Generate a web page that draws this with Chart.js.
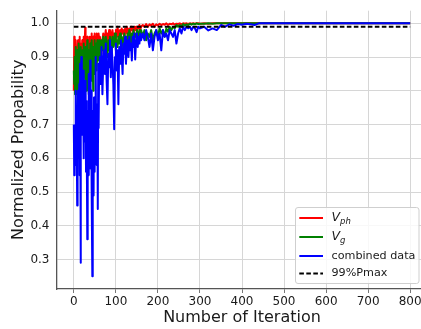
<!DOCTYPE html>
<html>
<head>
<meta charset="utf-8">
<script src="https://cdn.jsdelivr.net/npm/chart.js@4/dist/chart.umd.min.js"></script>
<style>
  html, body { margin: 0; padding: 0; background: #ffffff; }
  #wrap { width: 421px; height: 329px; overflow: hidden; position: relative; }
  canvas { display: block; }
</style>
</head>
<body>
<div id="wrap"><canvas id="chart" width="440" height="329"></canvas></div>
<script>
// Iteration numbers at which the probabilities were sampled
const iterations = [
  0,1,2,3,4,5,6,7,8,9,10,11,12,13,14,15,16,17,18,19,20,
  21,22,23,24,25,26,27,28,29,30,31,32,33,34,35,36,37,38,39,40,
  41,42,43,44,45,46,47,48,49,50,51,52,53,54,55,56,57,58,59,60,
  62,64,66,68,70,72,74,76,78,80,82,84,86,88,90,92,94,96,98,100,
  102,104,106,108,110,112,114,116,118,120,122,124,126,128,130,132,134,136,138,140,
  142,144,146,148,150,152,154,156,158,160,
  164,168,172,176,180,184,188,192,196,200,204,208,212,216,220,224,228,232,236,240,
  244,248,252,256,260,264,268,272,276,280,284,288,292,296,300,
  310,320,330,340,350,360,370,380,390,400,410,420,430,440,450,
  800
];

// Normalized probability from the V_ph data
const vph = [
  0.80,0.96,0.88,0.94,0.83,0.95,0.90,0.86,0.93,0.82,
  0.95,0.89,0.92,0.84,0.96,0.90,0.87,0.94,0.91,0.85,
  0.95,0.89,0.93,0.86,0.96,0.91,0.94,0.987,0.88,0.95,
  0.92,0.89,0.96,0.90,0.94,0.87,0.95,0.92,0.96,0.89,
  0.94,0.91,0.97,0.88,0.95,0.93,0.96,0.90,0.94,0.97,
  0.92,0.95,0.89,0.96,0.93,0.97,0.91,0.95,0.94,0.97,
  0.93,
  0.96,0.94,0.91,0.95,0.97,0.93,0.96,0.98,0.94,0.97,
  0.95,0.98,0.96,0.93,0.97,0.98,0.95,0.97,0.94,0.98,
  0.96,0.99,0.97,0.95,0.98,0.96,0.985,0.97,0.98,0.95,
  0.985,0.97,0.99,0.98,0.96,0.985,0.97,0.99,0.98,0.985,
  0.97,0.99,0.98,0.99,0.975,0.99,0.985,0.995,0.98,0.99,
  0.995,0.99,0.998,0.99,0.997,0.993,0.999,0.99,0.997,0.994,
  0.999,0.995,0.998,0.996,1.0,0.995,0.999,0.997,1.0,0.996,
  0.999,0.998,1.0,0.997,1.0,0.999,1.0,0.998,1.0,0.999,
  1.0,0.999,1.0,1.0,0.999,
  1.0,0.999,1.0,1.0,1.0,1.0,1.0,1.0,1.0,1.0,1.0,1.0,1.0,1.0,1.0,
  1.0
];

// Normalized probability from the V_g data
const vg = [
  0.86,0.82,0.90,0.79,0.93,0.85,0.88,0.81,0.92,0.745,
  0.89,0.84,0.94,0.80,0.91,0.87,0.83,0.93,0.78,0.90,
  0.86,0.92,0.81,0.89,0.94,0.84,0.91,0.87,0.93,0.80,
  0.90,0.85,0.95,0.83,0.92,0.88,0.79,0.91,0.78,0.94,
  0.86,0.90,0.83,0.95,0.87,0.92,0.80,0.93,0.89,0.95,
  0.85,0.92,0.88,0.94,0.90,0.86,0.95,0.91,0.93,0.89,
  0.95,
  0.93,0.90,0.95,0.92,0.96,0.91,0.94,0.96,0.93,0.90,
  0.95,0.92,0.96,0.94,0.91,0.96,0.93,0.95,0.97,0.92,
  0.95,0.93,0.96,0.94,0.97,0.93,0.96,0.95,0.92,0.97,
  0.95,0.96,0.94,0.97,0.95,0.98,0.96,0.93,0.97,0.96,
  0.98,0.95,0.97,0.96,0.98,0.97,0.95,0.98,0.97,0.98,
  0.96,0.98,0.95,0.97,0.96,0.98,0.95,0.97,0.98,0.96,
  0.985,0.97,0.98,0.96,0.985,0.975,0.99,0.98,0.99,0.985,
  0.995,0.99,0.995,0.99,0.998,0.993,0.997,0.995,0.999,0.996,
  0.999,0.997,1.0,0.998,0.999,
  0.999,1.0,0.999,1.0,1.0,1.0,1.0,1.0,1.0,1.0,1.0,1.0,1.0,1.0,1.0,
  1.0
];

// Normalized probability from the combined data
const combined = [
  0.70,0.55,0.68,0.62,0.80,0.58,0.71,0.66,0.46,0.74,
  0.80,0.62,0.69,0.82,0.55,0.88,0.29,0.78,0.90,0.67,
  0.84,0.75,0.81,0.60,0.86,0.72,0.79,0.65,0.83,0.56,
  0.77,0.70,0.36,0.74,0.62,0.85,0.55,0.72,0.64,0.89,
  0.57,0.80,0.68,0.49,0.25,0.74,0.61,0.49,0.78,0.66,
  0.56,0.75,0.90,0.63,0.72,0.58,0.76,0.45,0.88,0.69,
  0.84,
  0.90,0.82,0.93,0.79,0.88,0.92,0.85,0.94,0.83,0.76,
  0.91,0.87,0.95,0.84,0.93,0.89,0.82,0.686,0.90,0.94,
  0.86,0.92,0.76,0.93,0.88,0.95,0.90,0.85,0.94,0.91,
  0.96,0.88,0.93,0.95,0.90,0.96,0.92,0.94,0.89,0.96,
  0.93,0.97,0.893,0.95,0.97,0.93,0.96,0.94,0.97,0.95,
  0.97,0.95,0.98,0.96,0.93,0.97,0.92,0.96,0.98,0.95,
  0.97,0.92,0.98,0.96,0.97,0.95,0.98,0.97,0.96,0.98,
  0.94,0.97,0.985,0.97,0.99,0.98,0.99,0.985,0.99,0.98,
  0.99,0.985,0.974,0.99,0.985,
  0.99,0.979,0.985,0.98,0.995,0.99,0.997,0.993,0.998,0.996,0.999,0.997,0.995,1.0,1.0,
  1.0
];

// 99 % of the maximum probability
const thresholdIter = [0, 800];
const threshold = [0.99, 0.99];

// Axis ticks
const xTicks = [0, 100, 200, 300, 400, 500, 600, 700, 800];
const yTicks = [0.3, 0.4, 0.5, 0.6, 0.7, 0.8, 0.9, 1.0];

const FONT = '"DejaVu Sans", "Liberation Sans", sans-serif';
const TEXT = '#1a1a1a';

const toPoints = (xs, ys) => xs.map((x, i) => ({ x: x, y: ys[i] }));

function line(label, sub, xs, ys, color, order, dash) {
  return {
    label: label,
    sub: sub,
    data: toPoints(xs, ys),
    borderColor: color,
    backgroundColor: color,
    borderWidth: 2,
    borderDash: dash || [],
    borderJoinStyle: 'round',
    pointRadius: 0,
    pointHoverRadius: 0,
    tension: 0,
    fill: false,
    order: order
  };
}

// Legend with italic, subscripted series names
const legendBox = {
  id: 'legendBox',
  afterDraw(chart) {
    const ctx = chart.ctx;
    const x0 = 295.5, y0 = 207.5, w = 123.5, h = 76;
    const rows = [218, 237, 256, 273.5];
    ctx.save();
    ctx.beginPath();
    ctx.roundRect(x0, y0, w, h, 2.5);
    ctx.fillStyle = 'rgba(255,255,255,0.82)';
    ctx.fill();
    ctx.strokeStyle = '#cfcfcf';
    ctx.lineWidth = 1;
    ctx.stroke();
    chart.data.datasets.forEach((ds, i) => {
      const y = rows[i];
      ctx.beginPath();
      ctx.setLineDash(ds.borderDash);
      ctx.strokeStyle = ds.borderColor;
      ctx.lineWidth = 2;
      ctx.moveTo(299.3, y);
      ctx.lineTo(323, y);
      ctx.stroke();
      ctx.setLineDash([]);
      ctx.fillStyle = TEXT;
      ctx.textBaseline = 'middle';
      ctx.textAlign = 'left';
      if (ds.sub) {
        ctx.font = 'italic 12.5px ' + FONT;
        ctx.fillText(ds.label, 331.5, y);
        const wv = ctx.measureText(ds.label).width;
        ctx.font = 'italic 8.5px ' + FONT;
        ctx.fillText(ds.sub, 331.5 + wv, y + 4);
      } else {
        ctx.font = '11.2px ' + FONT;
        ctx.fillText(ds.label, 331.5, y);
      }
    });
    ctx.restore();
  }
};

new Chart(document.getElementById('chart'), {
  type: 'line',
  data: {
    datasets: [
      line('V', 'ph', iterations, vph, '#ff0000', 4),
      line('V', 'g', iterations, vg, '#008000', 3),
      line('combined data', '', iterations, combined, '#0000ff', 2),
      line('99%Pmax', '', thresholdIter, threshold, '#000000', 1, [4.6, 2.4])
    ]
  },
  options: {
    responsive: false,
    devicePixelRatio: 1,
    animation: false,
    parsing: false,
    layout: { padding: { left: 0, top: 3, right: 13, bottom: 0 } },
    plugins: {
      legend: { display: false },
      tooltip: { enabled: false }
    },
    scales: {
      x: {
        type: 'linear',
        min: -40,
        max: 840,
        afterBuildTicks(scale) { scale.ticks = xTicks.map(v => ({ value: v })); },
        afterFit(scale) { scale.height = 40; },
        ticks: {
          color: TEXT,
          font: { family: FONT, size: 12 },
          padding: 2,
          maxRotation: 0,
          callback: v => String(v)
        },
        grid: {
          color: '#d6d6d6',
          lineWidth: 1,
          drawTicks: true,
          tickLength: 4,
          tickColor: '#777777'
        },
        border: { display: true, color: '#555555', width: 1.3 },
        title: {
          display: true,
          text: 'Number of Iteration',
          color: TEXT,
          font: { family: FONT, size: 16 },
          padding: { top: 0, bottom: 2 }
        }
      },
      y: {
        type: 'linear',
        min: 0.2125,
        max: 1.0375,
        afterBuildTicks(scale) { scale.ticks = yTicks.map(v => ({ value: v })); },
        afterFit(scale) { scale.width = 57; },
        ticks: {
          color: TEXT,
          font: { family: FONT, size: 12 },
          padding: 3.5,
          callback: v => Number(v).toFixed(1)
        },
        grid: {
          color: '#d6d6d6',
          lineWidth: 1,
          drawTicks: true,
          tickLength: 4,
          tickColor: 'rgba(0,0,0,0)'
        },
        border: { display: true, color: '#555555', width: 1.3 },
        title: {
          display: true,
          text: 'Normalized Propability',
          color: TEXT,
          font: { family: FONT, size: 16 },
          padding: { top: 9, bottom: 0 }
        }
      }
    }
  },
  plugins: [legendBox]
});
</script>
</body>
</html>
